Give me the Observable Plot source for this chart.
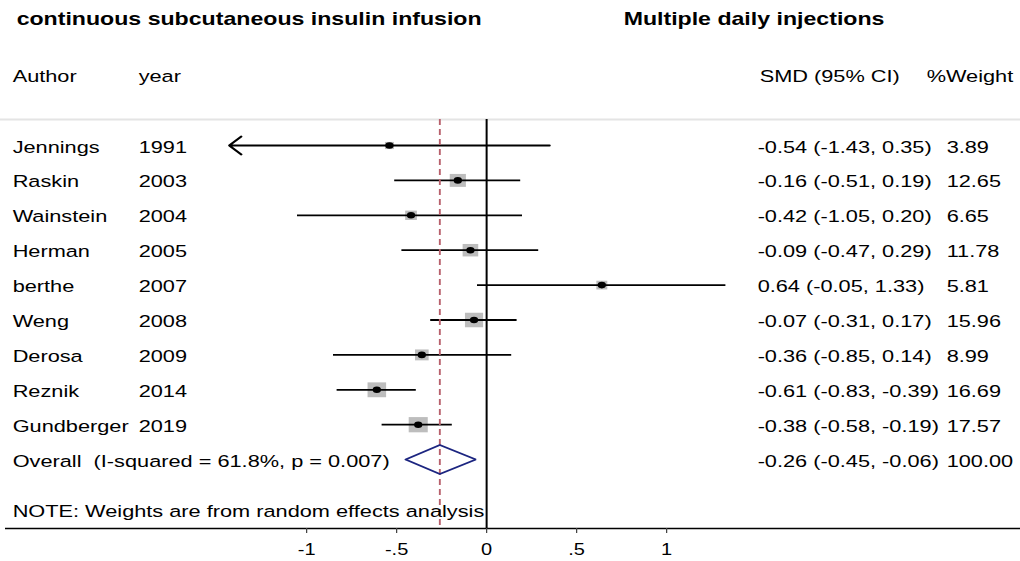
<!DOCTYPE html>
<html>
<head>
<meta charset="utf-8">
<script src="https://cdn.jsdelivr.net/npm/d3@7"></script>
<script src="https://cdn.jsdelivr.net/npm/@observablehq/plot@0.6"></script>
<style>
  html, body { margin: 0; padding: 0; background: #fff; }
  #chart svg text { white-space: pre; }
</style>
</head>
<body>
<div id="chart"></div>
<script>
// ---------- data ----------
const titleLeft = "continuous subcutaneous insulin infusion";
const titleRight = "Multiple daily injections";
const headerAuthor = "Author";
const headerYear = "year";
const headerSmd = "SMD (95% CI)";
const headerWeight = "%Weight";
const note = "NOTE: Weights are from random effects analysis";

const authors = ["Jennings", "Raskin", "Wainstein", "Herman", "berthe", "Weng", "Derosa", "Reznik", "Gundberger"];
const years   = [1991, 2003, 2004, 2005, 2007, 2008, 2009, 2014, 2019];
const smd     = [-0.54, -0.16, -0.42, -0.09, 0.64, -0.07, -0.36, -0.61, -0.38];
const lower   = [-1.43, -0.51, -1.05, -0.47, -0.05, -0.31, -0.85, -0.83, -0.58];
const upper   = [0.35, 0.19, 0.20, 0.29, 1.33, 0.17, 0.14, -0.39, -0.19];
const weights = [3.89, 12.65, 6.65, 11.78, 5.81, 15.96, 8.99, 16.69, 17.57];

const overallLabel = "Overall  (I-squared = 61.8%, p = 0.007)";
const overallSmd = -0.26;
const overallLower = -0.45;
const overallUpper = -0.06;
const overallWeight = 100.00;

const tickValues = [-1, -0.5, 0, 0.5, 1];
const tickLabels = ["-1", "-.5", "0", ".5", "1"];

// ---------- layout ----------
const W = 1020, H = 561;
const stretch = 1.25;            // the reference is horizontally stretched
const W0 = W / stretch;
const zeroPx = 388.8, unitPx = 144;
const rowPx = 34.9, row0Px = 145, axisPx = 528;
const yTop = -row0Px / rowPx;
const yAxis = (axisPx - row0Px) / rowPx;
const sepRow = (119 - row0Px) / rowPx;
const titleRow = (17 - row0Px) / rowPx;
const headerRow = (74 - row0Px) / rowPx;
const noteRow = (509 - row0Px) / rowPx;
const arrowBelow = -1.25;
const diamondHalf = 14.5 / rowPx;

const fmt = v => v.toFixed(2);
const studies = authors.map((a, k) => ({
  author: a, year: years[k], est: smd[k], lo: lower[k], hi: upper[k], w: weights[k], row: k
}));
const overallRow = studies.length;

const table = studies.map(d => ({
  label: d.author, year: String(d.year),
  ci: `${fmt(d.est)} (${fmt(d.lo)}, ${fmt(d.hi)})`, wt: fmt(d.w), row: d.row
})).concat([{
  label: overallLabel, year: "",
  ci: `${fmt(overallSmd)} (${fmt(overallLower)}, ${fmt(overallUpper)})`,
  wt: fmt(overallWeight), row: overallRow
}]);

const diamond = [
  {x: overallLower, y: overallRow},
  {x: overallSmd, y: overallRow - diamondHalf},
  {x: overallUpper, y: overallRow},
  {x: overallSmd, y: overallRow + diamondHalf},
  {x: overallLower, y: overallRow}
];

const txt = (data, opts) => Plot.text(data, Object.assign({
  frameAnchor: "left", textAnchor: "start", lineAnchor: "middle", dy: 1.5, fontSize: 17.4, fill: "#000"
}, opts));

const chart = Plot.plot({
  width: W0,
  height: H,
  marginLeft: 0, marginRight: 0, marginTop: 0, marginBottom: H - axisPx,
  style: {fontFamily: "'Liberation Sans', Arial, Helvetica, sans-serif", fontSize: "17px", color: "#000", background: "#fff"},
  x: {domain: [-zeroPx / unitPx, (W0 - zeroPx) / unitPx]},
  y: {domain: [yAxis, yTop], axis: null},
  r: {type: "sqrt", domain: [0, d3.max(weights)], range: [0, 8.6]},
  marks: [
    Plot.ruleY([sepRow], {stroke: "#e4e4e4", strokeWidth: 2}),
    // boxes
    Plot.dot(studies, {x: "est", y: "row", r: "w", symbol: "square", fill: "#bdbdbd", stroke: null}),
    // CIs
    Plot.ruleY(studies.filter(d => d.lo >= arrowBelow), {x1: "lo", x2: "hi", y: "row", stroke: "#000", strokeWidth: 1.8}),
    Plot.arrow(studies.filter(d => d.lo < arrowBelow), {x1: "hi", x2: "lo", y1: "row", y2: "row", stroke: "#000", strokeWidth: 1.8, headAngle: 86, headLength: 11}),
    // point estimates
    Plot.dot(studies, {x: "est", y: "row", r: 3.3, fill: "#000", stroke: null}),
    // reference lines
    Plot.ruleX([0], {y1: sepRow, y2: yAxis, stroke: "#000", strokeWidth: 1.6}),
    Plot.ruleX([overallSmd], {y1: sepRow, y2: yAxis, stroke: "#b8606c", strokeWidth: 1.5, strokeDasharray: "6,4"}),
    // overall diamond
    Plot.line(diamond, {x: "x", y: "y", stroke: "#1c2580", strokeWidth: 1.7, strokeLinejoin: "miter"}),
    // axis
    Plot.ruleY([yAxis], {insetLeft: 5 / stretch, stroke: "#000", strokeWidth: 1.4}),
    Plot.axisX({ticks: tickValues, tickFormat: d => tickLabels[tickValues.indexOf(d)], tickSize: 5, tickPadding: 10, fontSize: 16, stroke: "#444"}),
    // titles and headers
    txt([titleLeft], {text: d => d, y: () => titleRow, dx: 16 / stretch, fontWeight: "bold", fontSize: 18.5}),
    txt([titleRight], {text: d => d, y: () => titleRow, dx: 623 / stretch, fontWeight: "bold", fontSize: 18.5}),
    txt([headerAuthor], {text: d => d, y: () => headerRow, dx: 12 / stretch}),
    txt([headerYear], {text: d => d, y: () => headerRow, dx: 138 / stretch}),
    txt([headerSmd], {text: d => d, y: () => headerRow, dx: 759 / stretch}),
    txt([headerWeight], {text: d => d, y: () => headerRow, dx: 926 / stretch}),
    // table columns
    txt(table, {text: "label", y: "row", dx: 12 / stretch}),
    txt(table, {text: "year", y: "row", dx: 138 / stretch}),
    txt(table, {text: "ci", y: "row", dx: 757 / stretch}),
    txt(table, {text: "wt", y: "row", dx: 946 / stretch}),
    txt([note], {text: d => d, y: () => noteRow, dx: 12 / stretch})
  ]
});

chart.setAttribute("width", W);
chart.setAttribute("height", H);
chart.setAttribute("preserveAspectRatio", "none");
chart.style.width = W + "px";
chart.style.height = H + "px";
chart.style.maxWidth = "none";
document.getElementById("chart").appendChild(chart);
</script>
</body>
</html>
